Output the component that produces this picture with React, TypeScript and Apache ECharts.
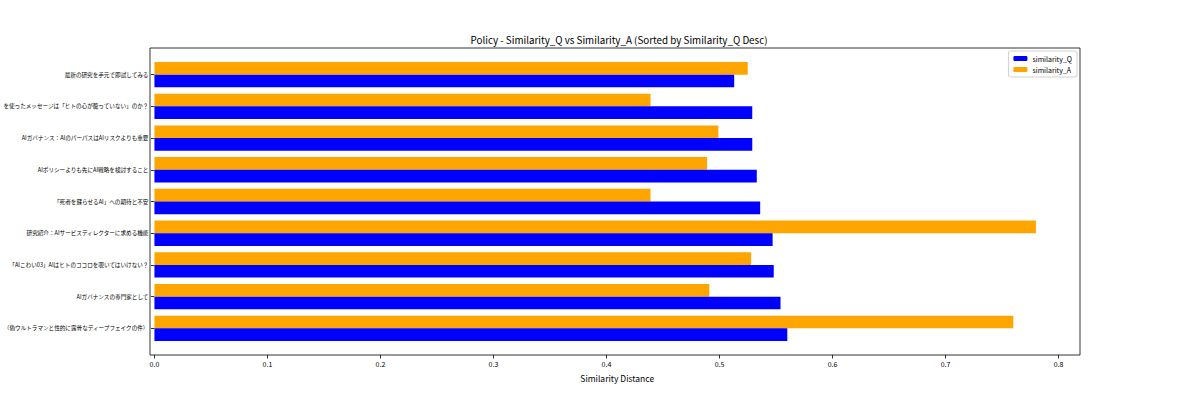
import { useEffect, useRef } from "react";
import * as echarts from "echarts";

// categories listed bottom -> top (sorted by similarity_Q desc, first row drawn at the bottom)
const titles = [
  "（偽ウルトラマンと性的に露骨なディープフェイクの件）",
  "AIガバナンスの専門家として",
  "「AIこわい03」AIはヒトのココロを覗いてはいけない？",
  "研究紹介：AIサービスディレクターに求める機能",
  "「死者を蘇らせるAI」への期待と不安",
  "AIポリシーよりも先にAI戦略を検討すること",
  "AIガバナンス：AIのパーパスはAIリスクよりも重要",
  "を使ったメッセージは「ヒトの心が籠っていない」のか？",
  "最新の研究を手元で即試してみる",
];
const similarityQ = [0.56, 0.554, 0.548, 0.547, 0.536, 0.533, 0.529, 0.529, 0.513];
const similarityA = [0.76, 0.491, 0.528, 0.78, 0.439, 0.489, 0.499, 0.439, 0.525];

const FONT = "Noto Sans CJK JP";

export default function App() {
  const chartRef = useRef<HTMLDivElement>(null);

  useEffect(() => {
    document.body.style.margin = "0";
    if (!chartRef.current) return;
    const chart = echarts.init(chartRef.current, null, { renderer: "svg" });

    // matplotlib-like frame: outer grid 48..355, bar bands inset by the 5% margin
    const left = 150;
    const width = 930;
    const frameTop = 48;
    const frameHeight = 307;
    const unit = frameHeight / 9.68;
    const inset = 0.34 * unit;

    const option = {
      animation: false,
      backgroundColor: "#ffffff",
      textStyle: { fontFamily: FONT },
      title: {
        text: "Policy - Similarity_Q vs Similarity_A (Sorted by Similarity_Q Desc)",
        left: 614,
        top: 30,
        textAlign: "center",
        textStyle: { fontFamily: FONT, fontSize: 9.8, fontWeight: "normal", color: "#000" },
      },
      legend: {
        data: ["similarity_Q", "similarity_A"],
        orient: "vertical",
        right: 123,
        top: 51,
        itemWidth: 14,
        itemHeight: 5,
        itemGap: 4,
        padding: [4, 5, 4, 5],
        borderColor: "#d0d0d0",
        borderWidth: 1,
        borderRadius: 2,
        textStyle: { fontFamily: FONT, fontSize: 7, color: "#000" },
      },
      grid: [
        {
          left,
          width,
          top: frameTop,
          height: frameHeight,
          show: true,
          borderColor: "#000",
          borderWidth: 0.8,
          backgroundColor: "transparent",
        },
        {
          left,
          width,
          top: frameTop + inset,
          height: frameHeight - 2 * inset,
        },
      ],
      xAxis: [
        { gridIndex: 0, type: "value", show: false, min: 0, max: 1 },
        {
          gridIndex: 1,
          type: "value",
          min: 0,
          max: 0.819,
          interval: 0.1,
          offset: inset,
          name: "Similarity Distance",
          nameLocation: "middle",
          nameGap: 19,
          nameTextStyle: { fontFamily: FONT, fontSize: 8.5, color: "#000" },
          axisLine: { show: false },
          axisTick: { show: true, length: 3.5, lineStyle: { color: "#000", width: 0.8 } },
          axisLabel: {
            fontFamily: FONT,
            fontSize: 7,
            color: "#000",
            margin: 5,
            showMaxLabel: false,
            formatter: (v: number) => v.toFixed(1),
          },
          splitLine: { show: false },
        },
      ],
      yAxis: [
        { gridIndex: 0, type: "value", show: false, min: 0, max: 1 },
        {
          gridIndex: 1,
          type: "category",
          data: titles,
          axisLine: { show: false },
          axisTick: { show: true, alignWithLabel: true, length: 3.5, lineStyle: { color: "#000", width: 0.8 } },
          axisLabel: { fontFamily: FONT, fontSize: 5.6, color: "#000", margin: 6 },
          splitLine: { show: false },
        },
      ],
      // A is listed first so that it sits above Q inside each band
      series: [
        {
          name: "similarity_A",
          type: "bar",
          xAxisIndex: 1,
          yAxisIndex: 1,
          data: similarityA,
          barWidth: 0.4 * unit,
          barGap: "0%",
          itemStyle: { color: "#ffa500" },
        },
        {
          name: "similarity_Q",
          type: "bar",
          xAxisIndex: 1,
          yAxisIndex: 1,
          data: similarityQ,
          barWidth: 0.4 * unit,
          barGap: "0%",
          itemStyle: { color: "#0000ff" },
        },
      ],
    };

    chart.setOption(option);
    return () => {
      chart.dispose();
    };
  }, []);

  return <div ref={chartRef} style={{ width: 1200, height: 400 }} />;
}
